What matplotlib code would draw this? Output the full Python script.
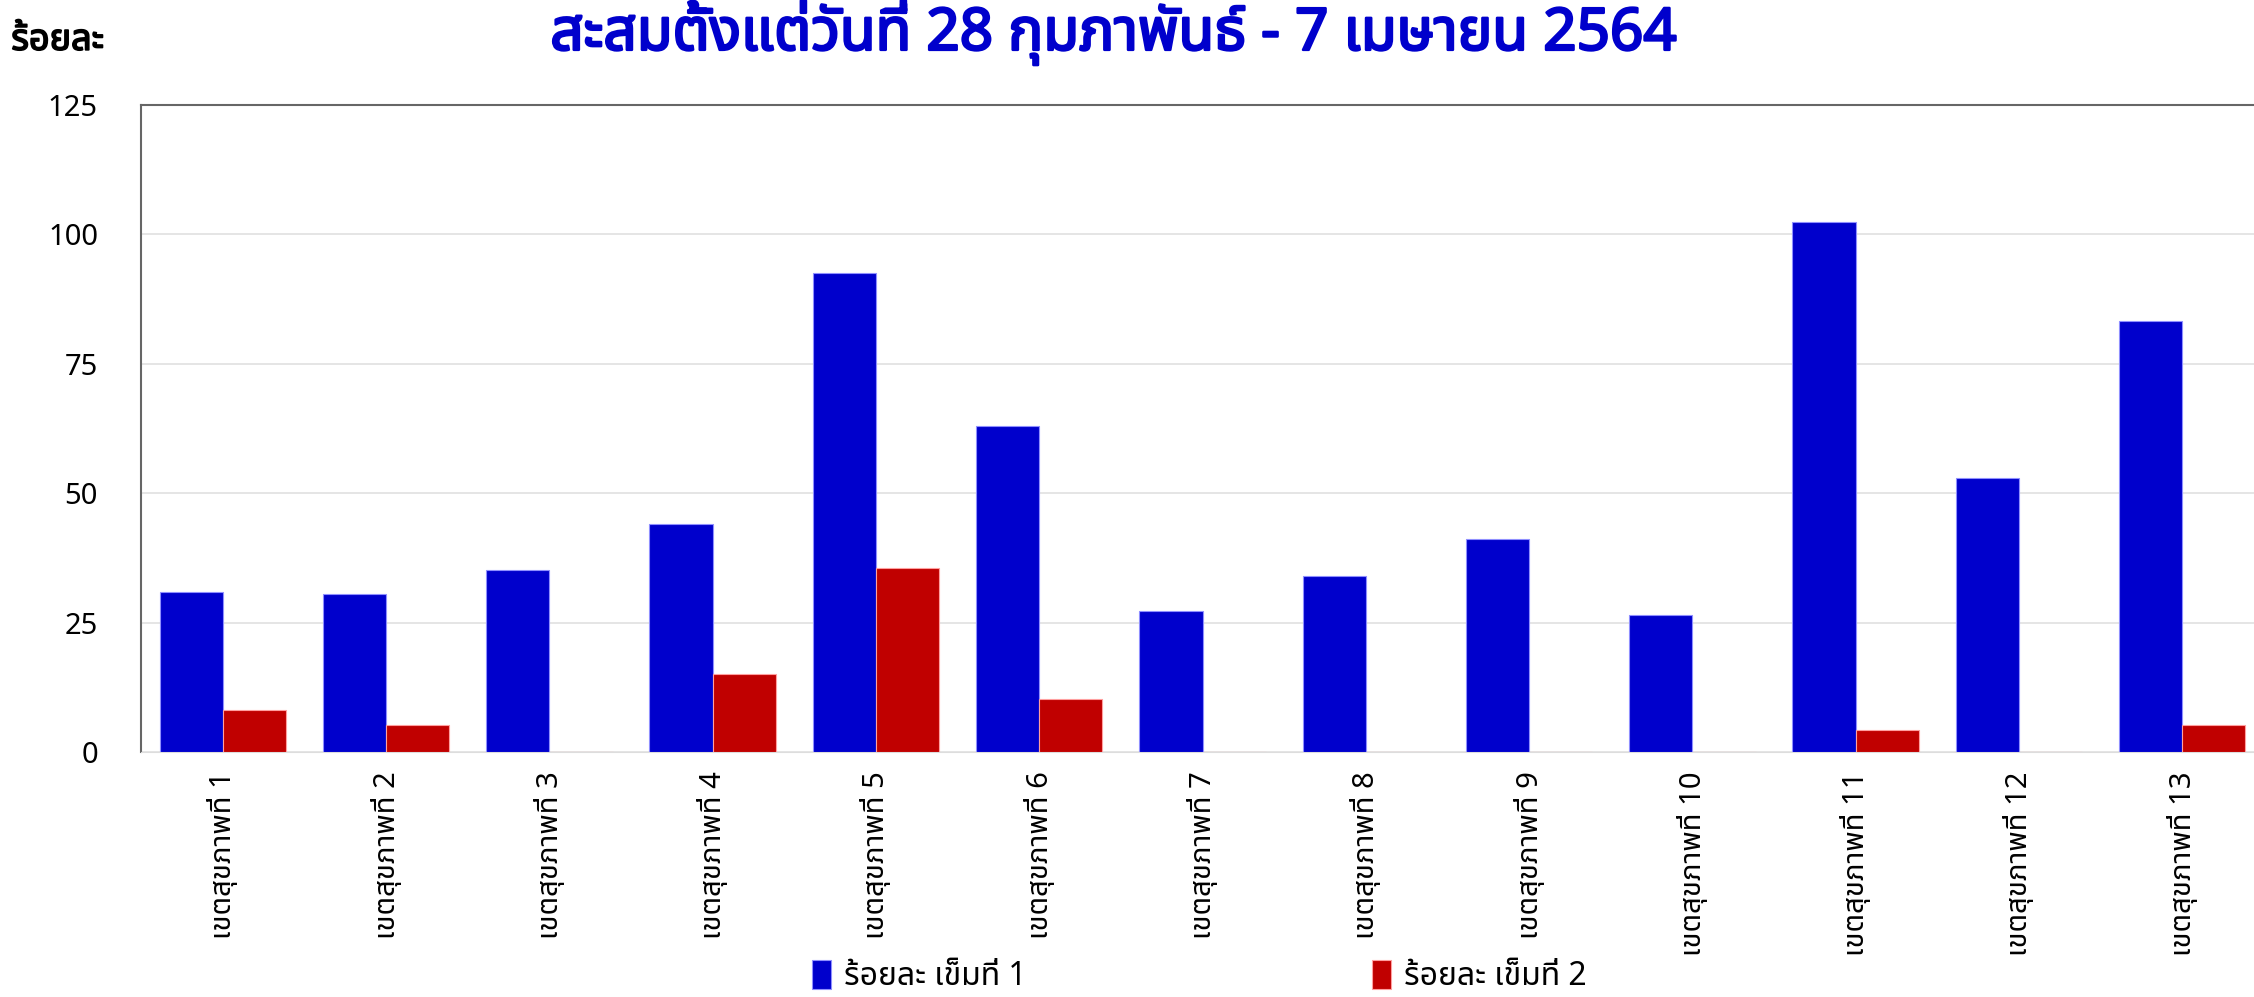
import matplotlib
matplotlib.use('Agg')
import matplotlib.pyplot as plt
import matplotlib.patheffects as pe
import numpy as np

thai_fonts = ['Noto Sans Thai', 'Loma', 'Garuda', 'Norasi', 'Tlwg Typo', 'Waree', 'Sawasdee',
              'Tahoma', 'Noto Sans', 'DejaVu Sans']
plt.rcParams['font.family'] = thai_fonts

regions = ['เขตสุขภาพที่ %d' % i for i in range(1, 14)]
dose1 = [30.9, 30.6, 35.1, 44.0, 92.5, 62.9, 27.3, 34.0, 41.2, 26.4, 102.3, 52.9, 83.2]
dose2 = [8.1, 5.3, 0, 15.1, 35.6, 10.2, 0, 0, 0, 0, 4.2, 0, 5.3]
series_names = ['ร้อยละ เข็มที่ 1', 'ร้อยละ เข็มที่ 2']
title = 'สะสมตั้งแต่วันที่ 28 กุมภาพันธ์ - 7 เมษายน 2564'

blue = '#0000cc'
red = '#c00000'

fig = plt.figure(figsize=(22.54, 9.97), dpi=100)
ax = fig.add_axes([0.0626, 0.2457, 1.0044 - 0.0626, 0.8947 - 0.2457])

x = np.arange(len(regions))
w = 0.387
ax.bar(x - w / 2, dose1, w, color=blue, edgecolor='#8f8fff', linewidth=0.8, label=series_names[0], zorder=3)
ax.bar(x + w / 2, dose2, w, color=red, edgecolor='#ff9f9f', linewidth=0.8, label=series_names[1], zorder=3)

ax.set_xlim(-0.5, len(regions) - 0.5)
ax.set_ylim(0, 125)
ax.set_yticks([0, 25, 50, 75, 100, 125])
ax.yaxis.grid(True, color='#e0e0e0', linewidth=1.2, zorder=0)
ax.set_xticks(x)
ax.set_xticklabels(regions, rotation=90, fontsize=21)
ax.tick_params(axis='y', labelsize=21, length=0, pad=31)
ax.tick_params(axis='x', length=0, pad=14)

ax.spines['left'].set_color('#666666')
ax.spines['top'].set_color('#666666')
ax.spines['left'].set_linewidth(1.5)
ax.spines['top'].set_linewidth(1.5)
ax.spines['bottom'].set_color('#dddddd')
ax.spines['right'].set_visible(False)

# fake bold, the Thai face has no bold weight here
fig.text(0.005, 0.95, 'ร้อยละ', fontsize=26, ha='left', va='baseline',
         path_effects=[pe.withStroke(linewidth=1.2, foreground='black')])
fig.text(0.494, 0.95, title, fontsize=42, color=blue, ha='center', va='baseline',
         path_effects=[pe.withStroke(linewidth=1.8, foreground=blue)])

fig.legend(loc='lower center', bbox_to_anchor=(0.532, -0.025), ncol=2, frameon=False,
           fontsize=23, columnspacing=10.8, handlelength=0.6, handleheight=1.0, handletextpad=0.4)

fig.savefig('out.png', dpi=100)
